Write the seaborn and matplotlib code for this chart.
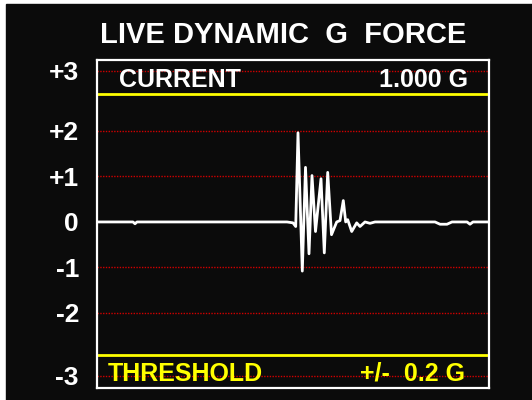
import matplotlib
matplotlib.use("Agg")
import matplotlib.pyplot as plt
from matplotlib.patches import Rectangle
import seaborn as sns

#? Trace (sample index, g force)
sample = [0, 36, 38, 40, 190, 196, 198.7, 201, 205.3, 208.5, 212, 215, 218.5,
          224, 227.3, 230.7, 234.5, 239.7, 243, 246.3, 248.7, 250.7, 254.7,
          259.7, 263, 268, 273, 278, 338, 343, 350, 355, 370, 373, 376, 392]
gforce = [0, 0, -0.04, 0, 0, -0.02, -0.1, 1.96, -1.08, 1.2, -0.7, 1.02, -0.21,
          0.95, -0.68, 1.09, -0.28, 0.0, 0.03, 0.47, 0.0, 0.05, -0.21,
          -0.02, -0.1, 0.0, -0.03, 0, 0, -0.05, -0.05, 0, 0, -0.05, 0, 0]

#? Scale: screen ticks are not evenly spaced at the ends
tick_pos = [3.32, 2, 1, 0, -1, -2, -3.38]
tick_labels = ["+3", "+2", "+1", "0", "-1", "-2", "-3"]
current_line = 2.81
threshold_line = -2.92

title = "LIVE DYNAMIC  G  FORCE"
current_value = "1.000 G"
threshold_value = "+/-  0.2 G"

bg = "#0b0b0b"
sns.set_theme(style="dark", rc={"axes.facecolor": bg, "figure.facecolor": "white"})
plt.rcParams["font.family"] = ["Liberation Sans", "DejaVu Sans"]

fig = plt.figure(figsize=(5.32, 4.0), dpi=100)
fig.patches.append(Rectangle((6 / 532, 0), 1 - 6 / 532, 1 - 4 / 400,
                             transform=fig.transFigure, color=bg, zorder=-1))
ax = fig.add_axes([97 / 532, 12 / 400, 392 / 532, 328 / 400])

#? red dotted grid, none at zero (hidden under the trace on screen)
for y in tick_pos:
    if y != 0:
        ax.axhline(y, color="#d00000", lw=1.0, ls=(0, (1, 1)), zorder=1)
ax.axhline(current_line, color="#ffff00", lw=2.0, zorder=2)
ax.axhline(threshold_line, color="#ffff00", lw=2.0, zorder=2)

sns.lineplot(x=sample, y=gforce, ax=ax, color="white", linewidth=2.0,
             estimator=None, zorder=3)

ax.set_xlim(0, 392)
ax.set_ylim(-3.65, 3.56)
ax.set_xticks([])
ax.set_yticks(tick_pos)
ax.set_yticklabels(tick_labels, color="white", fontsize=19, fontweight="bold")
ax.tick_params(axis="y", length=0, pad=13)
ax.set_xlabel("")
ax.set_ylabel("")
ax.grid(False)
for s in ax.spines.values():
    s.set_visible(True)
    s.set_color("white")
    s.set_linewidth(1.6)

fig.text(283 / 532, 1 - 43 / 400, title, color="white", fontsize=21,
         fontweight="bold", ha="center", va="baseline")

ax.text(0.056, 2.97, "CURRENT", transform=ax.get_yaxis_transform(),
        color="white", fontsize=18, fontweight="bold", va="baseline")
ax.text(0.946, 2.97, current_value, transform=ax.get_yaxis_transform(),
        color="white", fontsize=18, fontweight="bold", va="baseline", ha="right")
ax.text(0.028, -3.49, "THRESHOLD", transform=ax.get_yaxis_transform(),
        color="#ffff00", fontsize=18, fontweight="bold", va="baseline")
ax.text(0.938, -3.49, threshold_value, transform=ax.get_yaxis_transform(),
        color="#ffff00", fontsize=18, fontweight="bold", va="baseline", ha="right")

fig.savefig("out.png", dpi=100, facecolor="white")
